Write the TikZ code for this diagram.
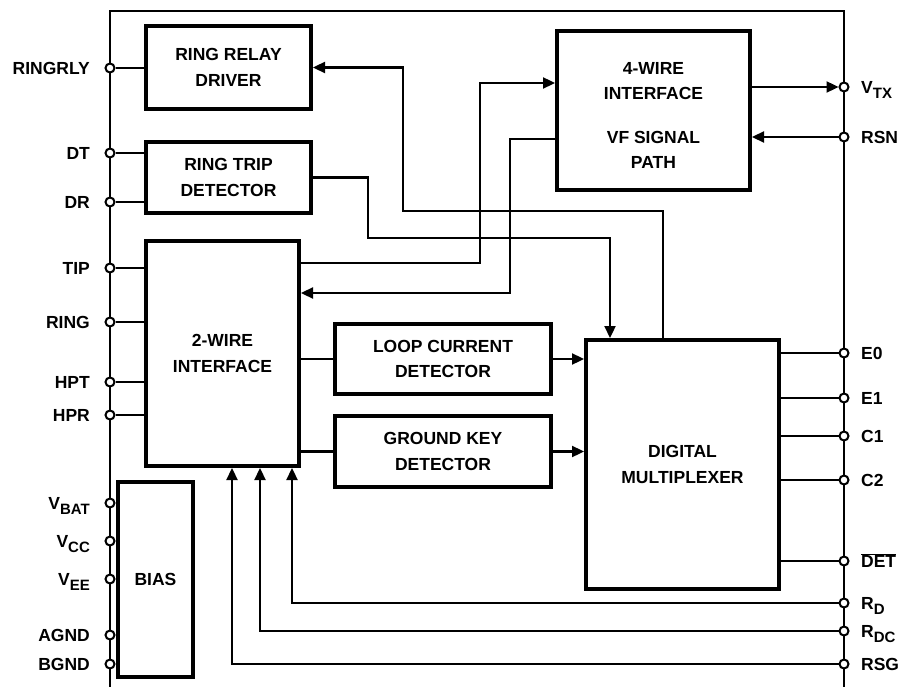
\documentclass[tikz,border=0pt]{standalone}
\usepackage{fontspec}
\setmainfont{Liberation Sans}
\usetikzlibrary{arrows.meta}
\newcommand\pinsub[1]{\raisebox{-5pt}{\fontsize{15}{15}\selectfont #1}}
\begin{document}
\begin{tikzpicture}[x=1pt, y=-1pt, line width=2.3pt,
  every node/.style={font={\fontsize{17.5}{25.5}\selectfont\bfseries}},
  block/.style={draw=black, rectangle, line width=4pt, align=center, inner sep=0pt},
  term/.style={draw=black, circle, fill=white, line width=2pt, inner sep=0pt, minimum size=9pt},
  lbl/.style={inner sep=0pt},
  sig/.style={-{Triangle[length=12pt,width=11pt]}}]
\useasboundingbox (0,0) rectangle (899,687);
% outer frame
\draw (110,687) -- (110,11) -- (844,11) -- (844,687);
% blocks
\node[block, minimum width=165pt, minimum height=83pt] (relay) at (228.5,67.5) {RING RELAY\\DRIVER};
\node[block, minimum width=165pt, minimum height=71pt] (trip) at (228.5,177.5) {RING TRIP\\DETECTOR};
\node[block, minimum width=153pt, minimum height=225pt] (twowire) at (222.5,353.5) {2-WIRE\\INTERFACE};
\node[block, minimum width=75pt, minimum height=195pt] (bias) at (155.5,579.5) {BIAS};
\node[block, minimum width=193pt, minimum height=159pt] (fourwire) at (653.5,110.5) {\rule{0pt}{22pt}4-WIRE\\INTERFACE\\[18pt]VF SIGNAL\\PATH};
\node[block, minimum width=216pt, minimum height=70pt] (loop) at (443,359) {LOOP CURRENT\\DETECTOR};
\node[block, minimum width=216pt, minimum height=71pt] (gkey) at (443,451.5) {GROUND KEY\\DETECTOR};
\node[block, minimum width=193pt, minimum height=249pt] (mux) at (682.5,464.5) {DIGITAL\\MULTIPLEXER};
% terminals
\foreach \y/\n/\t in {68/ringrly/RINGRLY, 153/dt/DT, 202/dr/DR, 268/tip/TIP, 322/ring/RING,
    382/hpt/HPT, 415/hpr/HPR, 503/vbat/{V\pinsub{BAT}}, 541/vcc/{V\pinsub{CC}},
    579/vee/{V\pinsub{EE}}, 635/agnd/AGND, 664/bgnd/BGND} {
  \node[term] (\n) at (110,\y) {};
  \node[lbl, anchor=base east] (\n-lbl) at (91,\y+6.5) {\t};
}
\foreach \y/\n/\t in {87/vtx/{V\pinsub{TX}}, 137/rsn/RSN, 353/e0/E0, 398/e1/E1, 436/c1/C1,
    480/c2/C2, 561/det/{$\overline{\mbox{DET}}$}, 603/rd/{R\pinsub{D}},
    631/rdc/{R\pinsub{DC}}, 664/rsg/RSG} {
  \node[term] (\n) at (844,\y) {};
  \node[lbl, anchor=base west] (\n-lbl) at (860,\y+6.5) {\t};
}
% left side wiring
\draw (ringrly.east) -- (relay.west |- ringrly);
\foreach \n in {dt,dr} \draw (\n.east) -- (trip.west |- \n);
\foreach \n in {tip,ring,hpt,hpr} \draw (\n.east) -- (twowire.west |- \n);
% internal signals
\draw[sig] ([xshift=-19.5pt]mux.north) |- (403,211) |- (relay.east);
\draw[sig] (trip.east) -| (368,238) -| ([xshift=-72.5pt]mux.north);
\draw[sig] ([yshift=90.5pt]twowire.east) -| (480,83) -- ([yshift=27.5pt]fourwire.west);
\draw[sig] ([yshift=-28.5pt]fourwire.west) -| (510,293) -- ([yshift=60.5pt]twowire.east);
\draw (twowire.east |- loop) -- (loop.west);
\draw (twowire.east |- gkey) -- (gkey.west);
\draw[sig] (loop.east) -- (mux.west |- loop);
\draw[sig] (gkey.east) -- (mux.west |- gkey);
% right side wiring
\draw[sig] (fourwire.east |- vtx) -- (vtx.west);
\draw[sig] (rsn.west) -- (fourwire.east |- rsn);
\foreach \n in {e0,e1,c1,c2,det} \draw (mux.east |- \n) -- (\n.west);
\draw[sig] (rd.west) -| ([xshift=69.5pt]twowire.south);
\draw[sig] (rdc.west) -| ([xshift=37.5pt]twowire.south);
\draw[sig] (rsg.west) -| ([xshift=9.5pt]twowire.south);
\end{tikzpicture}
\end{document}
